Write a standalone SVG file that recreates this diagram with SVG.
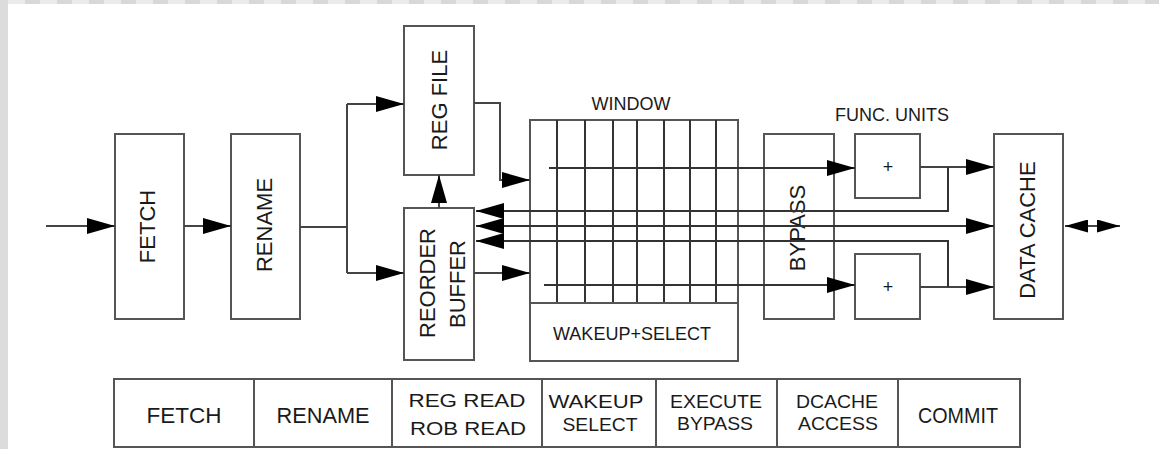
<svg xmlns="http://www.w3.org/2000/svg" width="1159" height="449" viewBox="0 0 1159 449">
<style>
.box{fill:#fff;stroke:#555;stroke-width:2}
.ln{fill:none;stroke:#444;stroke-width:2}
.grid{fill:none;stroke:#333;stroke-width:2}
.t{font-family:"Liberation Sans",Arial,Helvetica,sans-serif;fill:#1a1a1a}
.big{font-size:22px}
.sm{font-size:18px}
.mid{text-anchor:middle}
</style>
<defs>
<marker id="ah" markerUnits="userSpaceOnUse" markerWidth="28" markerHeight="16" viewBox="0 0 28 16" refX="28" refY="8" orient="auto-start-reverse"><path d="M0,0 L28,8 L0,16 z" fill="#000"/></marker>
<marker id="ahs" markerUnits="userSpaceOnUse" markerWidth="23" markerHeight="13" viewBox="0 0 23 13" refX="23" refY="6.5" orient="auto-start-reverse"><path d="M0,0 L23,6.5 L0,13 z" fill="#000"/></marker>
</defs>
<rect x="0" y="0" width="1159" height="449" fill="#fff"/>
<rect x="0" y="0" width="1159" height="4" fill="#ebebeb"/>
<line x1="0" y1="2" x2="1159" y2="2" stroke="#d8d8d8" stroke-width="4" stroke-dasharray="15 17" stroke-dashoffset="-25"/>
<rect x="0" y="0" width="8" height="449" fill="#dcdcdc"/>

<g id="fetch">
<rect class="box" x="115" y="134" width="69" height="185"/>
<text class="t big mid" transform="translate(155,226.5) rotate(-90)">FETCH</text>
</g>
<g id="rename">
<rect class="box" x="231" y="134" width="69" height="185"/>
<text class="t big mid" transform="translate(272,225) rotate(-90)">RENAME</text>
</g>
<g id="regfile">
<rect class="box" x="404" y="26" width="70" height="149"/>
<text class="t big mid" transform="translate(447,100) rotate(-90)">REG FILE</text>
</g>
<g id="rob">
<rect class="box" x="404" y="208" width="70" height="152"/>
<text class="t big mid" transform="translate(435,283) rotate(-90)">REORDER</text>
<text class="t big mid" transform="translate(465,284) rotate(-90)">BUFFER</text>
</g>
<g id="window">
<text class="t sm mid" x="631" y="110">WINDOW</text>
<rect class="box" x="530" y="120" width="208" height="241"/>
<path class="grid" d="M557,120V303M585,120V303M613,120V303M637,120V303M664,120V303M690,120V303M716,120V303"/>
<line class="box" x1="530" y1="303" x2="738" y2="303"/>
<text class="t sm mid" x="632" y="340">WAKEUP+SELECT</text>
</g>
<g id="bypass">
<rect class="box" x="764" y="134" width="70" height="185"/>
<text class="t big mid" transform="translate(805,228) rotate(-90)">BYPASS</text>
</g>
<g id="func-units-label">
<text class="t sm mid" x="892" y="121">FUNC. UNITS</text>
</g>
<g id="fu-add-1">
<rect class="box" x="855" y="134" width="65" height="64"/>
<text class="t sm mid" x="888" y="173">+</text>
</g>
<g id="fu-add-2">
<rect class="box" x="855" y="254" width="65" height="65"/>
<text class="t sm mid" x="888" y="293">+</text>
</g>
<g id="dcache">
<rect class="box" x="994" y="134" width="69" height="185"/>
<text class="t big mid" transform="translate(1035,230) rotate(-90)">DATA CACHE</text>
</g>

<g id="connectors">
<path class="ln" d="M46,226H115" marker-end="url(#ah)"/>
<path class="ln" d="M184,226H231" marker-end="url(#ah)"/>
<path class="ln" d="M300,227H347M347,104V273"/>
<path class="ln" d="M347,104H404" marker-end="url(#ah)"/>
<path class="ln" d="M347,273H404" marker-end="url(#ah)"/>
<path class="ln" d="M439,208V175" marker-end="url(#ah)"/>
<path class="ln" d="M474,103H500V180H530" marker-end="url(#ah)"/>
<path class="ln" d="M474,273H530" marker-end="url(#ah)"/>
<path class="grid" d="M549,168H855" marker-end="url(#ah)"/>
<path class="grid" d="M544,285H855" marker-end="url(#ah)"/>
<path class="ln" d="M920,167H994" marker-end="url(#ah)"/>
<path class="ln" d="M920,287H994" marker-end="url(#ah)"/>
<path class="grid" d="M948,167V211H476" marker-end="url(#ah)"/>
<path class="grid" d="M994,226H476" marker-start="url(#ah)" marker-end="url(#ah)"/>
<path class="grid" d="M948,287V241H476" marker-end="url(#ah)"/>
<path class="ln" d="M1065,226H1120" marker-start="url(#ahs)" marker-end="url(#ahs)"/>
</g>

<g id="pipeline-stages">
<rect class="box" x="114" y="379" width="906" height="68"/>
<path class="box" d="M254,379V447M392,379V447M542,379V447M656,379V447M777,379V447M898,379V447"/>
<g id="stage-fetch"><text class="t big mid" x="184" y="423" textLength="75" lengthAdjust="spacingAndGlyphs">FETCH</text></g>
<g id="stage-rename"><text class="t big mid" x="323" y="423" textLength="93" lengthAdjust="spacingAndGlyphs">RENAME</text></g>
<g id="stage-read">
<text class="t mid" font-size="19" x="467" y="407" textLength="117" lengthAdjust="spacingAndGlyphs">REG READ</text>
<text class="t mid" font-size="19" x="468" y="435" textLength="116" lengthAdjust="spacingAndGlyphs">ROB READ</text>
</g>
<g id="stage-wakeup">
<text class="t mid" font-size="19" x="596" y="408" textLength="95" lengthAdjust="spacingAndGlyphs">WAKEUP</text>
<text class="t mid" font-size="19" x="600" y="431" textLength="75" lengthAdjust="spacingAndGlyphs">SELECT</text>
</g>
<g id="stage-execute">
<text class="t mid" font-size="19" x="716" y="408" textLength="92" lengthAdjust="spacingAndGlyphs">EXECUTE</text>
<text class="t mid" font-size="19" x="715" y="430" textLength="76" lengthAdjust="spacingAndGlyphs">BYPASS</text>
</g>
<g id="stage-dcache">
<text class="t mid" font-size="19" x="837" y="408" textLength="82" lengthAdjust="spacingAndGlyphs">DCACHE</text>
<text class="t mid" font-size="19" x="838" y="430" textLength="80" lengthAdjust="spacingAndGlyphs">ACCESS</text>
</g>
<g id="stage-commit"><text class="t big mid" x="958" y="423" textLength="80" lengthAdjust="spacingAndGlyphs">COMMIT</text></g>
</g>
</svg>
